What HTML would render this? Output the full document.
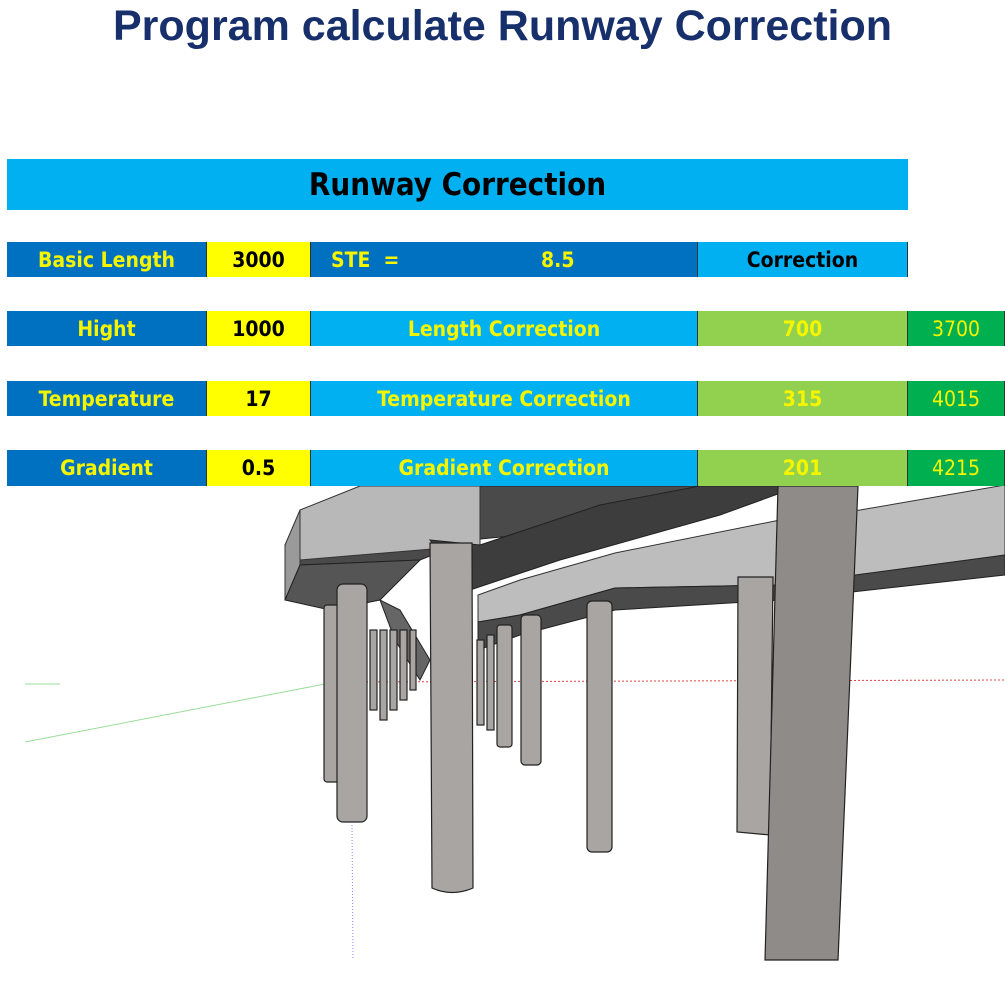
<!DOCTYPE html>
<html><head><meta charset="utf-8"><style>
body{margin:0;width:1005px;height:1005px;background:#fff;position:relative;overflow:hidden;font-family:"Liberation Sans",sans-serif}
.t{position:absolute;left:0;width:1005px;top:2px;text-align:center;font-weight:bold;font-size:43px;color:#172f6b}
.c{position:absolute;display:flex;align-items:center;justify-content:center;font-weight:bold;font-size:21px;color:#f5f500;box-sizing:border-box;border-right:1px solid #333;font-family:"DejaVu Sans Condensed","Liberation Sans Narrow","Liberation Sans",sans-serif}
.d{background:#0070c0}.y{background:#ffff00;color:#000}.l{background:#00b0f0}.g{background:#92d050}.gg{background:#00b050;font-weight:normal}
svg{position:absolute;left:0;top:0}
</style></head><body>
<div class="t">Program calculate Runway Correction</div>
<svg width="1005" height="1005">
<line x1="25" y1="742" x2="330" y2="683" stroke="#9d9" stroke-width="1"/>
<line x1="25" y1="684" x2="60" y2="684" stroke="#9d9"/>
<line x1="330" y1="682" x2="1005" y2="680" stroke="#d44" stroke-dasharray="2,2"/>
<line x1="352" y1="825" x2="353" y2="960" stroke="#88f" stroke-dasharray="1,2"/>
<polygon points="305,510 360,486 800,486 680,520 470,540 420,560 300,565 285,545" fill="#4a4a4a" stroke="#222"/>
<polygon points="300,510 360,486 480,486 480,545 300,560" fill="#b8b8b8" stroke="#333"/>
<polygon points="285,545 300,510 300,565 285,600" fill="#9a9a9a" stroke="#333"/>
<polygon points="285,600 300,565 420,560 380,600 330,610" fill="#555" stroke="#222"/>
<polygon points="380,600 400,610 430,660 420,680 395,640" fill="#666" stroke="#222"/>
<polygon points="430,540 480,545 600,505 700,486 800,486 720,515 560,560 470,590" fill="#3d3d3d" stroke="#222"/>
<polygon points="478,595 520,580 615,553 780,520 860,510 1005,485 1005,555 860,580 780,585 615,588 520,615 478,622" fill="#bdbdbd" stroke="#333"/>
<polygon points="478,622 520,615 615,588 780,585 1005,555 1005,575 780,600 615,610 520,635 478,650" fill="#4a4a4a" stroke="#222"/>
<g fill="#a9a5a2" stroke="#222" stroke-width="1.2">
<rect x="370" y="630" width="7" height="80"/><rect x="380" y="630" width="7" height="90"/><rect x="390" y="630" width="7" height="80"/><rect x="400" y="630" width="7" height="70"/><rect x="410" y="630" width="6" height="60"/>
<rect x="477" y="640" width="7" height="85"/><rect x="487" y="635" width="7" height="95"/>
<rect x="324" y="605" width="16" height="177" rx="3"/>
<rect x="497" y="625" width="15" height="122" rx="3"/>
<rect x="521" y="615" width="20" height="150" rx="4"/>
<rect x="587" y="601" width="25" height="251" rx="5"/>
<rect x="337" y="584" width="30" height="238" rx="6"/>
<polygon points="738,577 773,577 770,835 737,832"/>
<path d="M430,543 L472,543 L473,888 Q452,897 432,888 Z"/>
<polygon points="778,486 858,486 838,960 765,960" fill="#8f8b89"/>
</g>
</svg>
<div class="c l" style="left:7px;top:159px;width:901px;height:51px;color:#000;font-size:31px;border:none">Runway Correction</div>

<div class="c d" style="left:7px;top:242px;width:200px;height:35px">Basic Length</div>
<div class="c y" style="left:207px;top:242px;width:104px;height:35px">3000</div>
<div class="c d" style="left:311px;top:242px;width:387px;height:35px;justify-content:flex-start;padding-left:20px">STE&nbsp; =<span style="position:absolute;left:230px">8.5</span></div>
<div class="c l" style="left:698px;top:242px;width:210px;height:35px;color:#000">Correction</div>

<div class="c d" style="left:7px;top:311px;width:200px;height:35px">Hight</div>
<div class="c y" style="left:207px;top:311px;width:104px;height:35px">1000</div>
<div class="c l" style="left:311px;top:311px;width:387px;height:35px">Length Correction</div>
<div class="c g" style="left:698px;top:311px;width:210px;height:35px">700</div>
<div class="c gg" style="left:908px;top:311px;width:97px;height:35px">3700</div>

<div class="c d" style="left:7px;top:381px;width:200px;height:35px">Temperature</div>
<div class="c y" style="left:207px;top:381px;width:104px;height:35px">17</div>
<div class="c l" style="left:311px;top:381px;width:387px;height:35px">Temperature Correction</div>
<div class="c g" style="left:698px;top:381px;width:210px;height:35px">315</div>
<div class="c gg" style="left:908px;top:381px;width:97px;height:35px">4015</div>

<div class="c d" style="left:7px;top:450px;width:200px;height:36px">Gradient</div>
<div class="c y" style="left:207px;top:450px;width:104px;height:36px">0.5</div>
<div class="c l" style="left:311px;top:450px;width:387px;height:36px">Gradient Correction</div>
<div class="c g" style="left:698px;top:450px;width:210px;height:36px">201</div>
<div class="c gg" style="left:908px;top:450px;width:97px;height:36px">4215</div>
</body></html>
